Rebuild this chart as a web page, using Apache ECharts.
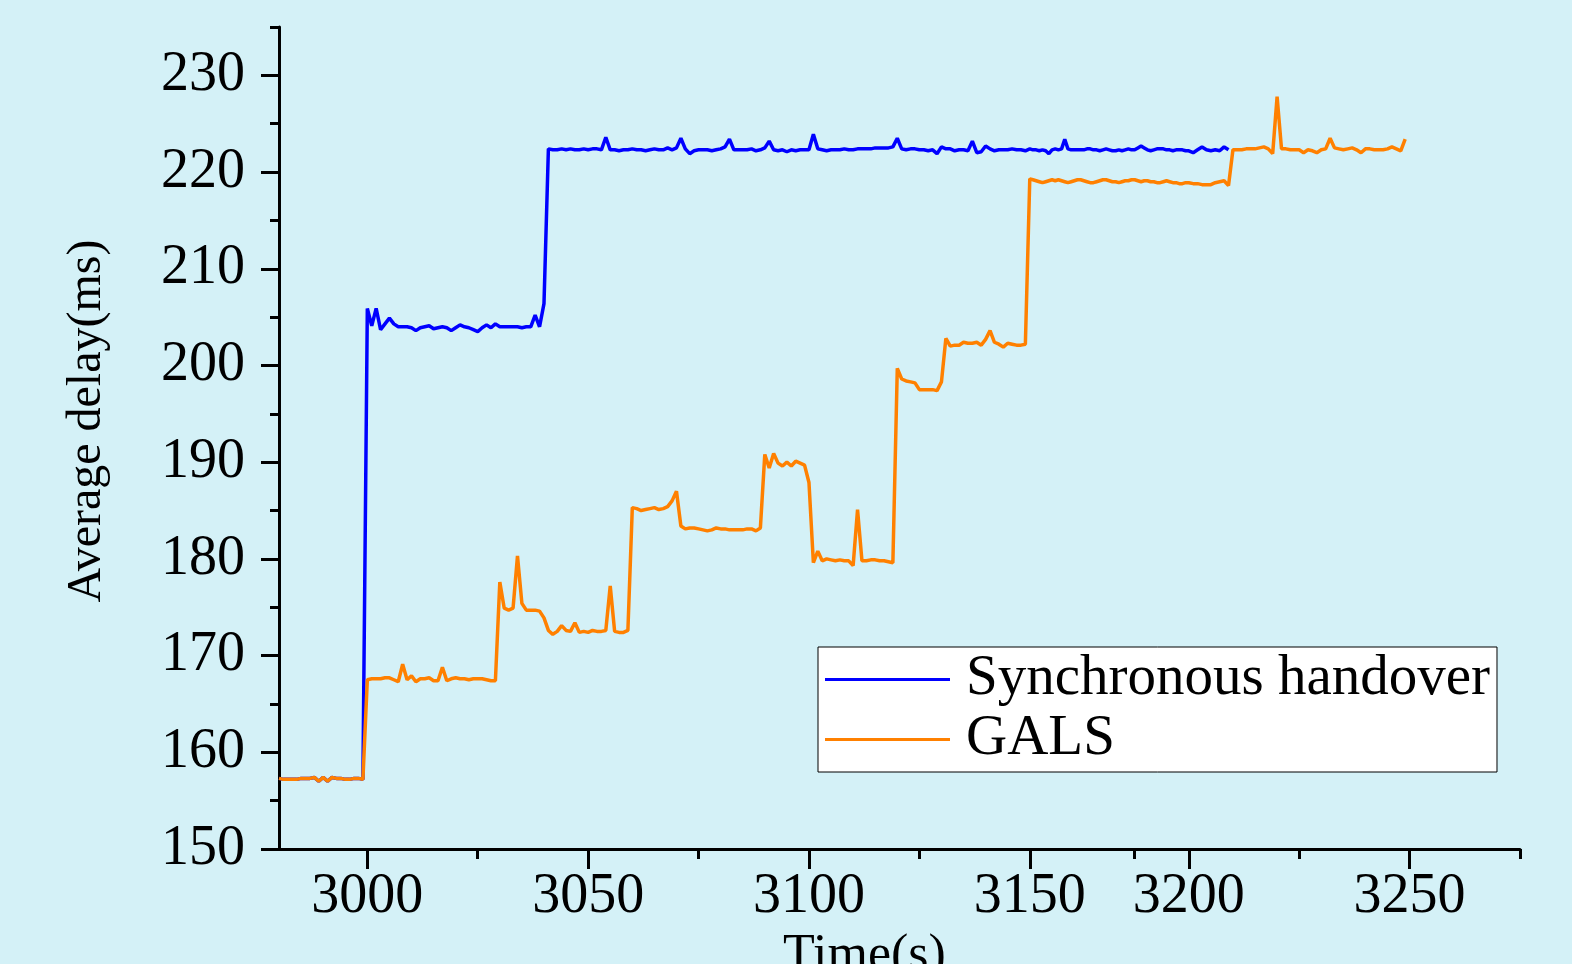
<!DOCTYPE html>
<html>
<head>
<meta charset="utf-8">
<script src="https://cdn.jsdelivr.net/npm/echarts@6/dist/echarts.min.js"></script>
<style>
  html, body { margin: 0; padding: 0; background: #d4f1f7; }
  #main { width: 1572px; height: 964px; }
</style>
</head>
<body>
<div id="main"></div>
<script>
// 数据：每秒一个采样点，从 2980 s 开始
var startTime = 2980;

var syncValues = [
  157.3, 157.2, 157.2, 157.2, 157.2, 157.3, 157.3, 157.3, 157.4, 157.0,
  157.4, 157.0, 157.4, 157.3, 157.3, 157.2, 157.2, 157.3, 157.3, 157.2,
  205.9, 204.1, 205.9, 203.7, 204.3, 204.9, 204.3, 204.0, 204.0, 204.0,
  203.9, 203.6, 203.9, 204.0, 204.1, 203.8, 203.9, 204.0, 203.9, 203.6,
  203.9, 204.2, 204.0, 203.9, 203.7, 203.5, 203.9, 204.2, 203.9, 204.3,
  204.0, 204.0, 204.0, 204.0, 204.0, 203.9, 204.0, 204.0, 205.2, 204.0,
  206.4, 222.4, 222.3, 222.3, 222.4, 222.3, 222.4, 222.3, 222.3, 222.4,
  222.3, 222.4, 222.4, 222.3, 223.6, 222.3, 222.3, 222.2, 222.3, 222.3,
  222.4, 222.3, 222.3, 222.2, 222.3, 222.4, 222.3, 222.3, 222.5, 222.3,
  222.5, 223.5, 222.4, 221.9, 222.2, 222.3, 222.3, 222.3, 222.2, 222.3,
  222.4, 222.6, 223.4, 222.3, 222.3, 222.3, 222.3, 222.4, 222.2, 222.3,
  222.5, 223.2, 222.3, 222.2, 222.3, 222.1, 222.3, 222.2, 222.3, 222.3,
  222.3, 223.9, 222.4, 222.3, 222.2, 222.3, 222.3, 222.3, 222.4, 222.3,
  222.3, 222.4, 222.4, 222.4, 222.4, 222.5, 222.5, 222.5, 222.5, 222.6,
  223.5, 222.4, 222.3, 222.4, 222.4, 222.3, 222.3, 222.2, 222.3, 221.9,
  222.6, 222.4, 222.4, 222.2, 222.3, 222.3, 222.2, 223.2, 222.0, 222.1,
  222.7, 222.4, 222.2, 222.3, 222.3, 222.3, 222.4, 222.3, 222.3, 222.2,
  222.4, 222.3, 222.3, 222.2, 222.3, 222.2, 221.9, 222.3, 222.4, 222.3,
  222.4, 223.4, 222.4, 222.3, 222.3, 222.3, 222.3, 222.3, 222.4, 222.4,
  222.3, 222.3, 222.2, 222.3, 222.4, 222.3, 222.2, 222.2, 222.3, 222.2,
  222.3, 222.4, 222.3, 222.3, 222.5, 222.7, 222.5, 222.3, 222.2, 222.3,
  222.4, 222.4, 222.4, 222.3, 222.3, 222.2, 222.3, 222.3, 222.3, 222.2,
  222.2, 222.0, 222.3, 222.6, 222.3, 222.2, 222.3, 222.2, 222.6, 222.3
];

var galsValues = [
  157.3, 157.2, 157.2, 157.2, 157.2, 157.3, 157.3, 157.3, 157.4, 157.0,
  157.4, 157.0, 157.4, 157.3, 157.3, 157.2, 157.2, 157.3, 157.3, 157.2,
  167.5, 167.6, 167.6, 167.6, 167.7, 167.7, 167.5, 167.3, 169.1, 167.5,
  167.9, 167.3, 167.6, 167.6, 167.7, 167.4, 167.4, 168.8, 167.4, 167.6,
  167.7, 167.6, 167.6, 167.5, 167.6, 167.6, 167.6, 167.5, 167.4, 167.4,
  177.6, 174.9, 174.7, 174.9, 180.3, 175.4, 174.7, 174.7, 174.7, 174.6,
  173.9, 172.6, 172.2, 172.5, 173.1, 172.6, 172.5, 173.4, 172.4, 172.5,
  172.4, 172.6, 172.5, 172.5, 172.6, 177.2, 172.5, 172.4, 172.4, 172.6,
  185.3, 185.2, 185.0, 185.1, 185.2, 185.3, 185.1, 185.2, 185.4, 186.0,
  187.0, 183.4, 183.1, 183.2, 183.2, 183.1, 183.0, 182.9, 183.0, 183.2,
  183.1, 183.1, 183.0, 183.0, 183.0, 183.0, 183.1, 183.1, 182.9, 183.2,
  190.8, 189.4, 190.9, 189.9, 189.6, 190.0, 189.6, 190.1, 189.9, 189.7,
  187.9, 179.6, 180.8, 179.8, 180.0, 179.9, 179.8, 179.9, 179.8, 179.8,
  179.3, 185.1, 179.8, 179.8, 179.9, 179.9, 179.8, 179.8, 179.7, 179.6,
  199.7, 198.6, 198.4, 198.3, 198.2, 197.5, 197.5, 197.5, 197.5, 197.4,
  198.3, 202.8, 202.0, 202.1, 202.1, 202.4, 202.3, 202.3, 202.4, 202.1,
  202.7, 203.6, 202.4, 202.2, 201.9, 202.3, 202.2, 202.1, 202.1, 202.2,
  219.3, 219.2, 219.1, 219.0, 218.9, 219.0, 219.1, 219.2, 219.1, 219.2,
  219.1, 219.0, 218.9, 219.0, 219.1, 219.2, 219.2, 219.1, 219.0, 218.9,
  218.9, 219.0, 219.1, 219.2, 219.2, 219.1, 219.0, 219.0, 218.9, 219.0,
  219.1, 219.1, 219.2, 219.2, 219.1, 219.0, 219.1, 219.1, 219.0, 219.0,
  218.9, 218.9, 219.0, 219.1, 219.0, 218.9, 218.9, 218.8, 218.8, 218.9,
  218.9, 218.8, 218.8, 218.7, 218.7, 218.7, 218.9, 219.0, 219.1, 218.6,
  222.3, 222.3, 222.3, 222.4, 222.4, 222.4, 222.5, 222.6, 222.4, 221.9,
  227.8, 222.4, 222.4, 222.3, 222.3, 222.3, 222.0, 222.3, 222.2, 222.0,
  222.3, 222.4, 223.5, 222.5, 222.4, 222.3, 222.4, 222.5, 222.3, 222.0,
  222.4, 222.4, 222.3, 222.3, 222.3, 222.4, 222.6, 222.4, 222.2, 223.4
];

// 刻度
var xMajorTicks = [3000, 3050, 3100, 3150, 3200, 3250];
var xMinorTicks = [3025, 3075, 3125, 3183, 3225, 3275];
var yMajorTicks = [150, 160, 170, 180, 190, 200, 210, 220, 230];
var yMinorTicks = [155, 165, 175, 185, 195, 205, 215, 225, 235];

function toPairs(values) {
  return values.map(function (v, i) { return [startTime + i, v]; });
}

var font = '"Liberation Serif", "Times New Roman", serif';
var axisBreaks = [{ start: 3150, end: 3200, gap: 36 }];
var noBreakArea = { show: false, itemStyle: { opacity: 0 } };

var myChart = echarts.init(document.getElementById('main'));

var option = {
  backgroundColor: '#d4f1f7',
  animation: false,
  textStyle: { fontFamily: font },
  grid: { left: 279, right: 52, top: 27, bottom: 115, outerBoundsMode: 'none' },
  legend: {
    orient: 'vertical',
    left: 818,
    top: 647,
    padding: [4, 7, 4, 7],
    itemGap: 3,
    icon: 'rect',
    itemWidth: 125,
    itemHeight: 3,
    backgroundColor: '#ffffff',
    borderColor: '#000000',
    borderWidth: 1,
    textStyle: { fontFamily: font, fontSize: 57, lineHeight: 54, color: '#000', padding: [0, 0, 0, 11] },
    data: ['Synchronous handover', 'GALS']
  },
  xAxis: [{
    type: 'value',
    min: 2980,
    max: 3275,
    breaks: axisBreaks,
    breakArea: noBreakArea,
    name: 'Time(s)',
    nameLocation: 'middle',
    nameGap: 74,
    nameTextStyle: { fontFamily: font, fontSize: 52, color: '#000', padding: [0, 70, 0, 0] },
    splitLine: { show: false },
    axisLine: { show: false, onZero: false },
    axisTick: { customValues: xMajorTicks, length: 20, lineStyle: { color: '#000', width: 3 } },
    axisLabel: {
      customValues: xMajorTicks, margin: 20, fontFamily: font, fontSize: 56, color: '#000',
      formatter: function (v) { return String(v); }
    }
  }, {
    type: 'value',
    position: 'bottom',
    min: 2980,
    max: 3275,
    breaks: axisBreaks,
    breakArea: noBreakArea,
    splitLine: { show: false },
    axisLine: { show: false, onZero: false },
    axisTick: { customValues: xMinorTicks, length: 10, lineStyle: { color: '#000', width: 3 } },
    axisLabel: { show: false }
  }, {
    // 连续的横轴线
    type: 'value',
    position: 'bottom',
    min: 2980,
    max: 3275,
    splitLine: { show: false },
    axisLine: { show: true, onZero: false, lineStyle: { color: '#000', width: 3 } },
    axisTick: { show: false },
    axisLabel: { show: false }
  }],
  yAxis: [{
    type: 'value',
    min: 150,
    max: 235,
    name: 'Average delay(ms)',
    nameLocation: 'middle',
    nameGap: 168,
    nameTextStyle: { fontFamily: font, fontSize: 48, color: '#000', padding: [0, 0, 0, 34] },
    splitLine: { show: false },
    axisLine: { lineStyle: { color: '#000', width: 3 } },
    axisTick: { customValues: yMajorTicks, length: 18, lineStyle: { color: '#000', width: 3 } },
    axisLabel: { customValues: yMajorTicks, margin: 34, fontFamily: font, fontSize: 56, color: '#000' }
  }, {
    type: 'value',
    position: 'left',
    min: 150,
    max: 235,
    splitLine: { show: false },
    axisLine: { show: false },
    axisTick: { customValues: yMinorTicks, length: 9, lineStyle: { color: '#000', width: 3 } },
    axisLabel: { show: false }
  }],
  series: [{
    name: 'Synchronous handover',
    type: 'line',
    symbol: 'none',
    xAxisIndex: 0,
    yAxisIndex: 0,
    lineStyle: { color: '#0000ff', width: 3.5 },
    itemStyle: { color: '#0000ff' },
    data: toPairs(syncValues)
  }, {
    name: 'GALS',
    type: 'line',
    symbol: 'none',
    xAxisIndex: 0,
    yAxisIndex: 0,
    lineStyle: { color: '#ff8000', width: 3.5 },
    itemStyle: { color: '#ff8000' },
    data: toPairs(galsValues)
  }]
};

myChart.setOption(option);
</script>
</body>
</html>
